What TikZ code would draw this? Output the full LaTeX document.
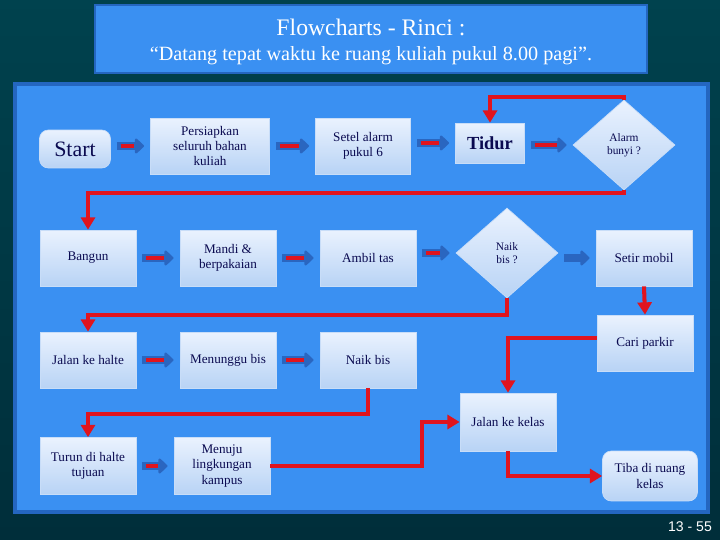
\documentclass[tikz,border=0pt]{standalone}
\usepackage{fontspec}
\setmainfont{Liberation Serif}
\newfontfamily\pagefont{Liberation Sans}
\usepackage{tikz}
\usetikzlibrary{arrows.meta,positioning,calc,shapes.geometric}
\definecolor{bgmid}{HTML}{00707C}
\definecolor{bgdark}{HTML}{002E3A}
\definecolor{panelblue}{HTML}{3A90F2}
\definecolor{paneledge}{HTML}{2466C0}
\definecolor{boxtop}{HTML}{EAF2FE}
\definecolor{boxbot}{HTML}{B8D3F5}
\definecolor{boxedge}{HTML}{C8DDF8}
\definecolor{navy}{HTML}{0A0A50}
\definecolor{routered}{HTML}{E0141E}
\definecolor{blockblue}{HTML}{2A66C0}

\begin{document}
\begin{tikzpicture}[x=0.02cm,y=-0.02cm,>=Stealth,
  box/.style={draw=boxedge,thin,top color=boxtop,bottom color=boxbot,text=navy,
    font=\fontsize{7.5}{8.6}\selectfont,align=center,inner sep=1pt,
    minimum width=1.92cm,minimum height=1.12cm},
  roundbox/.style={box,rounded corners=5pt},
  decision/.style={box,diamond,minimum width=2.04cm,minimum height=1.8cm,
    font=\fontsize{6.5}{7.5}\selectfont},
  route/.style={draw=routered,line width=2.3pt,
    -{Triangle[length=7pt,width=8pt]}},
  blockarrow/.style={draw=blockblue,line width=5pt,shorten <=3.5pt,shorten >=3.5pt,
    -{Triangle[length=5.5pt,width=10pt,round]}},
  redcore/.style={draw=routered,line width=1.8pt,shorten <=5.5pt,shorten >=9pt}]
  % background and panels
  \useasboundingbox (0,0) rectangle (720,540);
  \shade[top color=bgdark!70!bgmid,middle color=bgmid,bottom color=bgdark] (0,0) rectangle (720,540);
  \draw[fill=panelblue,draw=paneledge,line width=1.2pt] (95,5) rectangle (647,73);
  \draw[fill=panelblue,draw=paneledge,line width=1.8pt] (15,84) rectangle (708,512);
  \node[text=white,font=\fontsize{13.5}{15}\selectfont] (title) at (371,27) {Flowcharts - Rinci :};
  \node[text=white,font=\fontsize{11.5}{13}\selectfont] (subtitle) at (371,56) {``Datang tepat waktu ke ruang kuliah pukul 8.00 pagi''.};
  \node[text=white,font=\pagefont\fontsize{8}{9}\selectfont] (pagenum) at (690,527) {13 - 55};

  % row 1
  \node[roundbox,minimum width=1.42cm,minimum height=0.76cm,font=\fontsize{12.5}{14}\selectfont] (start) at (75,149) {Start};
  \node[box,minimum width=2.38cm] (prep) at (210,146) {Persiapkan\\seluruh bahan\\kuliah};
  \node[box,minimum width=1.9cm] (setel) at (363,146) {Setel alarm\\pukul 6};
  \node[box,minimum width=1.38cm,minimum height=0.8cm,font=\bfseries\fontsize{10.5}{12}\selectfont] (tidur) at (490,143) {Tidur};
  \node[decision] (alarmq) at (624,145) {Alarm\\bunyi ?};
  % row 2
  \node[box] (bangun) at (88,258) {Bangun};
  \node[box] (mandi) at (228,258) {Mandi \&\\berpakaian};
  \node[box] (ambil) at (368,258) {Ambil tas};
  \node[decision] (naikq) at (507,253) {Naik\\bis ?};
  \node[box] (setir) at (644,258) {Setir mobil};
  % row 3
  \node[box] (halte) at (88,360) {Jalan ke halte};
  \node[box] (tunggu) at (228,360) {Menunggu bis};
  \node[box] (naikbis) at (368,360) {Naik bis};
  \node[box] (cari) at (645,343) {Cari parkir};
  % row 4
  \node[box,minimum height=1.16cm] (kelas) at (508,422) {Jalan ke kelas};
  \node[box,minimum height=1.14cm] (turun) at (88,466) {Turun di halte\\tujuan};
  \node[box,minimum height=1.14cm] (menuju) at (222,466) {Menuju\\lingkungan\\kampus};
  \node[roundbox,minimum width=1.9cm,minimum height=1cm] (tiba) at (650,476) {Tiba di ruang\\kelas};

  % blue step arrows
  \foreach \a/\b in {start/prep,prep/setel,setel/tidur,tidur/alarmq,bangun/mandi,mandi/ambil,
    ambil/naikq,naikq/setir,halte/tunggu,tunggu/naikbis,turun/menuju}{
    \draw[blockarrow] (\a.east |- \b.west) -- (\b.west);
  }
  \foreach \a/\b in {start/prep,prep/setel,setel/tidur,tidur/alarmq,bangun/mandi,mandi/ambil,
    ambil/naikq,halte/tunggu,tunggu/naikbis,turun/menuju}{
    \draw[redcore] (\a.east |- \b.west) -- (\b.west);
  }

  % red routes
  \coordinate (loopy) at (560,97);
  \draw[route] (alarmq.north) |- (loopy) -| (tidur.north);
  \draw[route] (alarmq.south) -- ++(0,3) -| (bangun.north);
  \draw[route] (naikq.south) -- ++(0,17) -| (halte.north);
  \draw[route] (setir.south) -- (cari.north);
  \draw[route] (naikbis.south) -- ++(0,26) -| (turun.north);
  \draw[route] (menuju.east) -- ++(152,0) |- (kelas.west);
  \draw[route] (cari.west |- 0,338) -| (kelas.north);
  \draw[route] (kelas.south) |- (tiba.west);
\end{tikzpicture}
\end{document}
